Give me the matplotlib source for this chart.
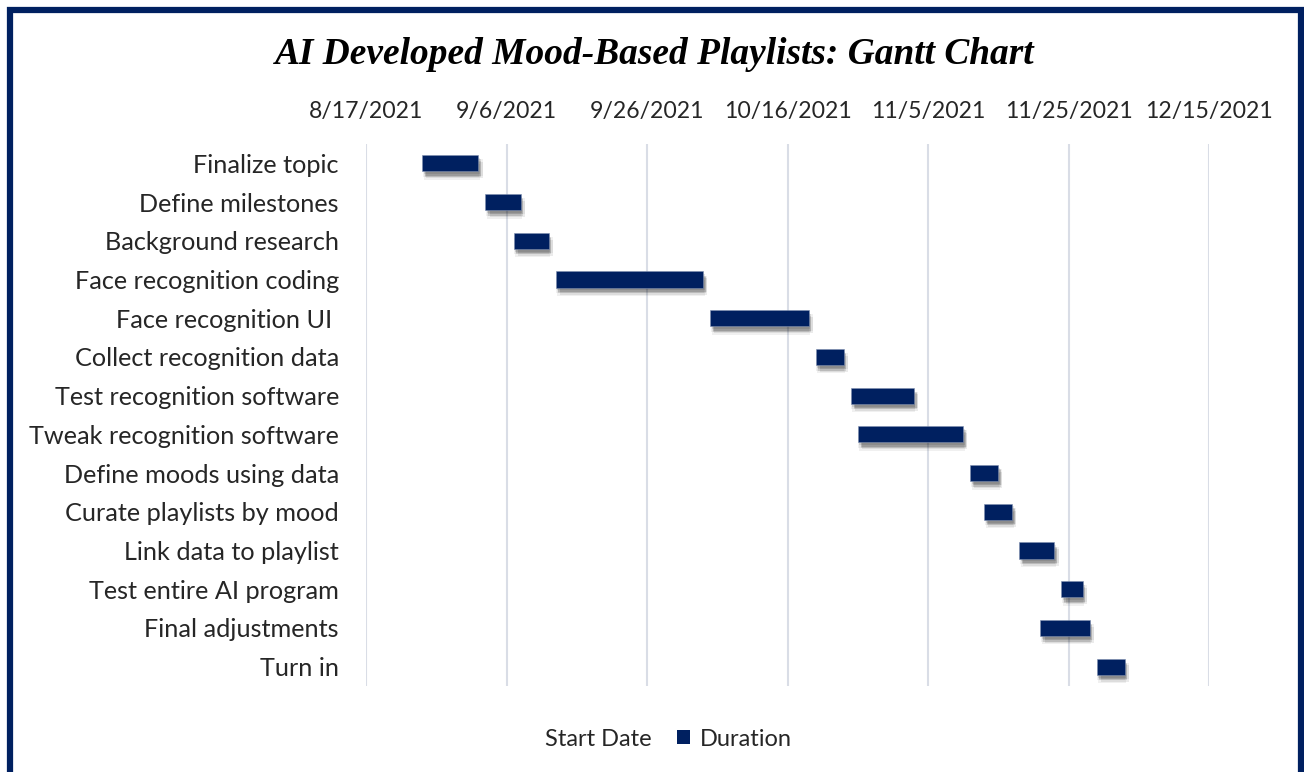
import matplotlib
matplotlib.use("Agg")
import matplotlib.pyplot as plt
import matplotlib.dates as mdates
import matplotlib.patheffects as pe
from matplotlib.patches import Rectangle
import datetime as dt

tasks = ["Finalize topic", "Define milestones", "Background research",
         "Face recognition coding", "Face recognition UI ", "Collect recognition data",
         "Test recognition software", "Tweak recognition software", "Define moods using data",
         "Curate playlists by mood", "Link data to playlist", "Test entire AI program",
         "Final adjustments", "Turn in"]
start_dates = ["2021-08-25", "2021-09-03", "2021-09-07", "2021-09-13", "2021-10-05",
               "2021-10-20", "2021-10-25", "2021-10-26", "2021-11-11", "2021-11-13",
               "2021-11-18", "2021-11-24", "2021-11-21", "2021-11-29"]
durations = [8, 5, 5, 21, 14, 4, 9, 15, 4, 4, 5, 3, 7, 4]
tick_dates = ["2021-08-17", "2021-09-06", "2021-09-26", "2021-10-16",
              "2021-11-05", "2021-11-25", "2021-12-15"]
tick_labels = ["8/17/2021", "9/6/2021", "9/26/2021", "10/16/2021",
               "11/5/2021", "11/25/2021", "12/15/2021"]

NAVY = "#002060"
FONT = ["Lato", "DejaVu Sans"]
TXT = "#262626"

fig = plt.figure(figsize=(13.04, 7.72), dpi=100)
fig.patches.append(Rectangle((10/1304, -20/772), (1301 - 10)/1304, (762 + 20)/772,
                             transform=fig.transFigure, fill=False,
                             edgecolor=NAVY, linewidth=4.5, zorder=10))

ax = fig.add_axes([366/1304, 86/772, 843/1304, 542/772])

starts = [mdates.date2num(dt.date.fromisoformat(s)) for s in start_dates]
base = mdates.date2num(dt.date(2021, 8, 17))
ypos = list(range(len(tasks)))

# invisible "Start Date" series (stacked Excel trick)
ax.barh(ypos, [s - base for s in starts], left=base, height=0.42,
        color="none", label="Start Date")
bars = ax.barh(ypos, durations, left=starts, height=0.42, color=NAVY,
               edgecolor="#7f8fb0", linewidth=0.4, label="Duration", zorder=3)
shadow = []
for dx, dy, a in [(1, -2, 0.10), (2, -3, 0.10), (2, -4, 0.10), (3, -5, 0.08),
                  (1, -6, 0.06), (3, -3, 0.06), (0.5, -4, 0.06)]:
    shadow.append(pe.SimplePatchShadow(offset=(dx, dy), shadow_rgbFace="#000000", alpha=a))
shadow.append(pe.Normal())
for b in bars:
    b.set_path_effects(shadow)

ticks = [mdates.date2num(dt.date.fromisoformat(t)) for t in tick_dates]
ax.set_xlim(ticks[0], ticks[-1])
ax.set_xticks(ticks)
ax.set_xticklabels(tick_labels, fontsize=16.6, family=FONT, color=TXT)
ax.xaxis.tick_top()
ax.tick_params(axis="x", length=0, pad=16)
ax.set_ylim(len(tasks) - 0.5, -0.5)
ax.set_yticks(ypos)
ax.set_yticklabels(tasks, fontsize=18.2, family=FONT, color=TXT)
ax.tick_params(axis="y", length=0, pad=19.5)
ax.grid(axis="x", color="#d9dde6", linewidth=1.5, zorder=0)
ax.set_axisbelow(True)
for s in ax.spines.values():
    s.set_visible(False)

fig.text(655/1304, 1 - 54/772, "AI Developed Mood-Based Playlists: Gantt Chart",
         ha="center", va="center", fontsize=26.9, fontweight="bold", fontstyle="italic",
         family=["Liberation Serif", "DejaVu Serif"], color="black")

leg = fig.legend(loc="center", bbox_to_anchor=(657/1304, 1 - 739/772), ncol=2,
                 frameon=False, prop={"family": FONT, "size": 17},
                 handlelength=0.55, handleheight=0.55, handletextpad=0.4, columnspacing=1.1)
for t in leg.get_texts():
    t.set_color(TXT)
for h in leg.legend_handles:
    h.set_path_effects([])
    h.set_edgecolor("none")

fig.savefig("out.png", dpi=100)
